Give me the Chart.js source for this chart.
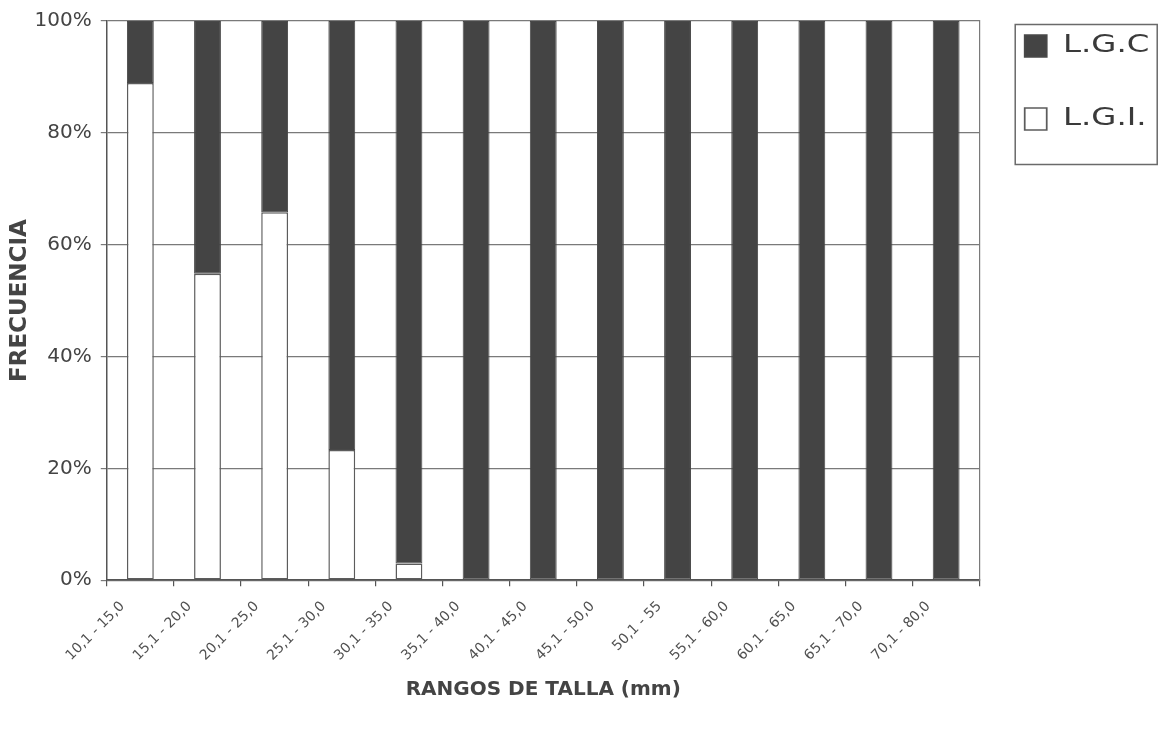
<!DOCTYPE html>
<html lang="es">
<head>
<meta charset="utf-8">
<title>Frecuencia por rangos de talla</title>
<script src="https://cdn.jsdelivr.net/npm/chart.js@4/dist/chart.umd.min.js"></script>
<style>
  html, body { margin: 0; padding: 0; background: #ffffff; }
  canvas { display: block; }
</style>
</head>
<body>
<canvas id="chart" width="1168" height="732"></canvas>
<script>
// Size classes (mm)
const sizeRanges = [
  '10,1 - 15,0', '15,1 - 20,0', '20,1 - 25,0', '25,1 - 30,0', '30,1 - 35,0',
  '35,1 - 40,0', '40,1 - 45,0', '45,1 - 50,0', '50,1 - 55', '55,1 - 60,0',
  '60,1 - 65,0', '65,1 - 70,0', '70,1 - 80,0'
];

// Share of each class (%)
const lgcShare = [11.1, 45.2, 34.2, 76.7, 97.0, 100, 100, 100, 100, 100, 100, 100, 100];
const lgiShare = [88.9, 54.8, 65.8, 23.3, 3.0, 0, 0, 0, 0, 0, 0, 0, 0];

const seriesNames = ['L.G.C', 'L.G.I.'];
const yTickValues = [0, 20, 40, 60, 80, 100];

const FONT = 'DejaVu Sans';
const DARK_FILL = '#444444';
const EDGE = '#5c5c5c';
const LEGEND_STRETCH = 1.35;

// Legend: moved into its framed box and drawn horizontally widened
const legendFrame = {
  id: 'legendFrame',
  beforeDraw(chart) {
    const lg = chart.legend;
    if (!lg || lg._framed) return;
    const drawItems = lg.draw.bind(lg);
    lg.draw = function () {
      const ctx = chart.ctx;
      const x0 = lg.left + lg.options.labels.padding;
      ctx.save();
      ctx.translate(x0 - 4, -23);
      ctx.scale(LEGEND_STRETCH, 1);
      ctx.translate(-x0, 0);
      drawItems();
      ctx.restore();
    };
    lg._framed = true;
  },
  afterDraw(chart) {
    const a = chart.chartArea;
    const ctx = chart.ctx;
    ctx.save();
    ctx.strokeStyle = '#6a6a6a';
    ctx.lineWidth = 1.5;
    ctx.strokeRect(a.right + 35.5, a.top + 3.5, 142, 140);
    ctx.restore();
  }
};

const edgeWidth = (w) => (ctx) => (ctx.raw ? w : 0);

new Chart(document.getElementById('chart'), {
  type: 'bar',
  data: {
    labels: sizeRanges,
    datasets: [
      {
        label: seriesNames[1],
        data: lgiShare,
        backgroundColor: '#ffffff',
        borderColor: EDGE,
        borderWidth: edgeWidth(1.5),
        borderSkipped: false
      },
      {
        label: seriesNames[0],
        data: lgcShare,
        backgroundColor: DARK_FILL,
        borderColor: '#484848',
        borderWidth: edgeWidth(1),
        borderSkipped: false
      }
    ]
  },
  options: {
    responsive: false,
    animation: false,
    devicePixelRatio: 1,
    datasets: {
      bar: { categoryPercentage: 1, barPercentage: 0.4 }
    },
    layout: { padding: { left: 0, right: 37, top: 8, bottom: 30 } },
    plugins: {
      tooltip: { enabled: false },
      legend: {
        position: 'right',
        align: 'start',
        reverse: true,
        labels: {
          font: { family: FONT, size: 24 },
          color: '#3a3a3a',
          boxWidth: 16.3,
          boxHeight: 22,
          padding: 49,
          generateLabels(chart) {
            const items = Chart.defaults.plugins.legend.labels.generateLabels(chart);
            items.forEach(it => { it.lineWidth = 1.3; });
            return items;
          }
        }
      }
    },
    scales: {
      x: {
        stacked: true,
        offset: true,
        grid: {
          display: true,
          drawOnChartArea: false,
          drawTicks: true,
          tickLength: 6,
          offset: true,
          color: '#555555',
          lineWidth: 1.2
        },
        border: { display: true, color: '#555555', width: 1.5 },
        ticks: {
          autoSkip: false,
          maxRotation: 45,
          minRotation: 45,
          padding: 12,
          labelOffset: -18,
          color: '#505050',
          font: { family: FONT, size: 14 }
        },
        title: {
          display: true,
          text: 'RANGOS DE TALLA (mm)',
          color: '#444444',
          font: { family: FONT, size: 20, weight: 'bold' },
          padding: { top: 2, bottom: 0 }
        }
      },
      y: {
        stacked: true,
        min: 0,
        max: 100,
        afterBuildTicks(scale) {
          scale.ticks = yTickValues.map(v => ({ value: v }));
        },
        ticks: {
          padding: 9,
          color: '#444444',
          font: { family: FONT, size: 20 },
          callback: v => v + '%'
        },
        grid: { color: '#7a7a7a', lineWidth: 1.2, tickLength: 6, drawTicks: true },
        border: { display: true, color: '#555555', width: 1.5 },
        title: {
          display: true,
          text: 'FRECUENCIA',
          color: '#444444',
          font: { family: FONT, size: 23, weight: 'bold' },
          padding: { top: 6, bottom: -8 }
        }
      },
      yFrame: {
        position: 'right',
        min: 0,
        max: 100,
        ticks: { display: false },
        grid: { display: false, drawTicks: false },
        border: { display: true, color: '#7a7a7a', width: 1.2 }
      }
    }
  },
  plugins: [legendFrame]
});
</script>
</body>
</html>
